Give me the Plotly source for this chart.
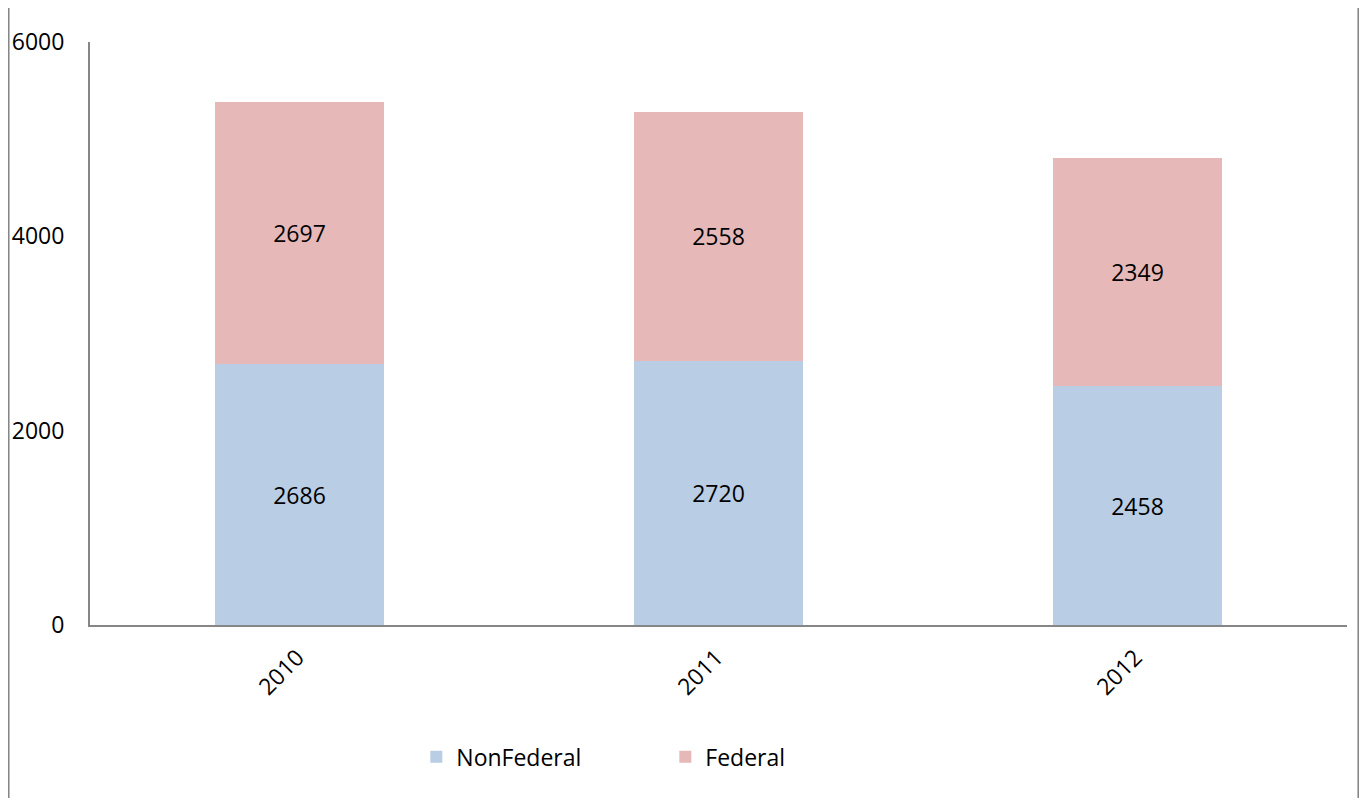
import plotly.graph_objects as go

years = ["2010", "2011", "2012"]
non_federal = [2686, 2720, 2458]
federal = [2697, 2558, 2349]
y_ticks = [0, 2000, 4000, 6000]

FONT = "Open Sans"
FSIZE = 23
AXIS_GRAY = "#868686"

fig = go.Figure()

fig.add_trace(go.Bar(
    x=years, y=non_federal, name="NonFederal",
    marker=dict(color="#B9CDE5", line=dict(width=0)),
    text=non_federal, textposition="inside", insidetextanchor="middle",
    textfont=dict(color="black", size=FSIZE, family=FONT),
))
fig.add_trace(go.Bar(
    x=years, y=federal, name="Federal",
    marker=dict(color="#E6B9B8", line=dict(width=0)),
    text=federal, textposition="inside", insidetextanchor="middle",
    textfont=dict(color="black", size=FSIZE, family=FONT),
))

# thin frame lines at the left and right edges of the chart area
for xp in [-0.0648, 1.0091]:
    fig.add_shape(type="line", xref="paper", yref="paper",
                  x0=xp, x1=xp, y0=-0.3, y1=1.06,
                  line=dict(color=AXIS_GRAY, width=2))

# the page adds an 8px body margin, so the figure is a bit smaller and offset
fig.update_layout(
    width=1351, height=790,
    barmode="stack", bargap=0.597,
    margin=dict(l=82, r=12, t=34, b=173),
    plot_bgcolor="white", paper_bgcolor="white",
    font=dict(family=FONT, size=FSIZE, color="black"),
    uniformtext=dict(minsize=FSIZE, mode="show"),
    showlegend=True,
    legend=dict(orientation="h", x=0.2596, xanchor="left", y=-0.226, yanchor="middle",
                traceorder="normal", entrywidth=204, entrywidthmode="pixels",
                font=dict(size=FSIZE, family=FONT)),
    xaxis=dict(showline=True, linecolor=AXIS_GRAY, linewidth=2, ticks="",
               tickangle=-45, ticklabelstandoff=8, ticklabelshift=-2,
               showgrid=False, zeroline=False, automargin=False),
    yaxis=dict(range=[0, 6000], tickvals=y_ticks, showline=True, linecolor=AXIS_GRAY,
               linewidth=2, ticks="", ticklabelstandoff=19, showgrid=False,
               zeroline=False, automargin=False),
)

fig.write_html("out.html")
